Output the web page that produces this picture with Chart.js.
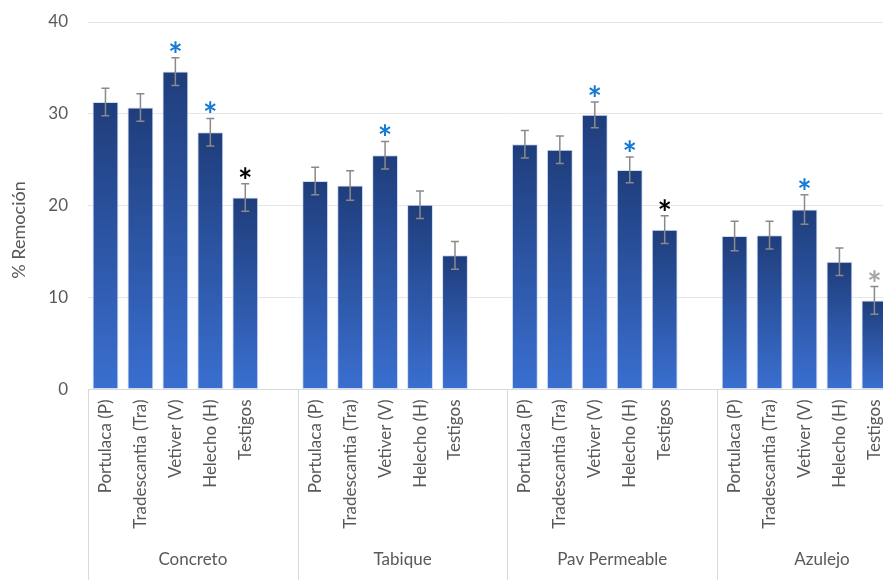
<!DOCTYPE html>
<html>
<head>
<meta charset="utf-8">
<script src="https://cdn.jsdelivr.net/npm/chart.js@4.4.1/dist/chart.umd.min.js"></script>
<style>
  html, body { margin: 0; padding: 0; background: #fff; overflow: hidden; }
  #wrap { width: 940px; height: 580px; position: relative; }
</style>
</head>
<body>
<div id="wrap"><canvas id="barChart"></canvas></div>
<script>
// datos
const grupos = ['Concreto', 'Tabique', 'Pav Permeable', 'Azulejo'];
const plantas = ['Portulaca (P)', 'Tradescantia (Tra)', 'Vetiver (V)', 'Helecho (H)', 'Testigos'];

const concreto = [31.3, 30.7, 34.6, 28.0, 20.9];
const tabique = [22.7, 22.2, 25.5, 20.1, 14.6];
const pavPermeable = [26.7, 26.1, 29.9, 23.9, 17.4];
const azulejo = [16.7, 16.8, 19.6, 13.9, 9.7];

const errConcreto = [1.5, 1.5, 1.5, 1.5, 1.5];
const errTabique = [1.5, 1.6, 1.5, 1.5, 1.5];
const errPav = [1.5, 1.5, 1.4, 1.4, 1.5];
const errAzulejo = [1.6, 1.5, 1.6, 1.5, 1.5];

// significancia: 1 = azul, 2 = negro, 3 = gris
const sigConcreto = [0, 0, 1, 1, 2];
const sigTabique = [0, 0, 1, 0, 0];
const sigPav = [0, 0, 1, 1, 2];
const sigAzulejo = [0, 0, 1, 0, 3];

const yTicks = [0, 10, 20, 30, 40];
const yTitulo = '% Remoción';

// arma las categorias con un hueco al final de cada grupo
const valores = [concreto, tabique, pavPermeable, azulejo];
const errores = [errConcreto, errTabique, errPav, errAzulejo];
const sigs = [sigConcreto, sigTabique, sigPav, sigAzulejo];
const labels = [], data = [], errs = [], marks = [];
grupos.forEach((g, i) => {
    plantas.forEach((p, j) => {
        labels.push(p); data.push(valores[i][j]); errs.push(errores[i][j]); marks.push(sigs[i][j]);
    });
    labels.push(''); data.push(null); errs.push(null); marks.push(0);
});

const sigColors = { 1: '#1479d4', 2: '#000000', 3: '#a6a6a6' };
const gris = '#595959';
const fuente = 'Lato, "Open Sans", sans-serif';

function barGradient(ctx) {
    const chart = ctx.chart;
    if (!chart.chartArea || ctx.raw == null) return '#2b55a8';
    const y = chart.scales.y;
    const top = y.getPixelForValue(ctx.raw);
    const bottom = y.getPixelForValue(0);
    if (!isFinite(top) || top === bottom) return '#2b55a8';
    const g = chart.ctx.createLinearGradient(0, top, 0, bottom);
    g.addColorStop(0, '#1f3d7b');
    g.addColorStop(1, '#3a6fd0');
    return g;
}

// barras de error, asteriscos, etiquetas de grupo, separadores y titulo
const extras = {
    id: 'extras',
    afterDatasetsDraw(chart) {
        const ctx = chart.ctx;
        const y = chart.scales.y;
        const meta = chart.getDatasetMeta(0);
        ctx.save();
        meta.data.forEach((bar, i) => {
            const v = data[i];
            if (v == null) return;
            const e = errs[i];
            const yt = y.getPixelForValue(v + e);
            const yb = y.getPixelForValue(v - e);
            ctx.strokeStyle = '#8a8a8a';
            ctx.lineWidth = 1.5;
            ctx.beginPath();
            ctx.moveTo(bar.x, yt); ctx.lineTo(bar.x, yb);
            ctx.moveTo(bar.x - 4, yt); ctx.lineTo(bar.x + 4, yt);
            ctx.moveTo(bar.x - 4, yb); ctx.lineTo(bar.x + 4, yb);
            ctx.stroke();
            if (marks[i]) {
                ctx.fillStyle = sigColors[marks[i]];
                ctx.font = 'bold 34px ' + fuente;
                ctx.textAlign = 'center';
                ctx.textBaseline = 'alphabetic';
                ctx.fillText('*', bar.x, yt + 9);
            }
        });
        ctx.restore();
    },
    afterDraw(chart) {
        const ctx = chart.ctx;
        const x = chart.scales.x;
        const area = chart.chartArea;
        ctx.save();
        ctx.strokeStyle = '#d9d9d9';
        ctx.lineWidth = 1;
        grupos.forEach((g, i) => {
            const left = x.getPixelForValue(i * 6 - 0.5);
            const right = x.getPixelForValue(i * 6 + 5.5);
            ctx.beginPath();
            ctx.moveTo(Math.round(left) + 0.5, area.bottom);
            ctx.lineTo(Math.round(left) + 0.5, chart.height);
            ctx.stroke();
            ctx.fillStyle = gris;
            ctx.font = '17px ' + fuente;
            ctx.textAlign = 'center';
            ctx.textBaseline = 'middle';
            ctx.fillText(g, (left + right) / 2, 560);
        });
        // titulo del eje y
        ctx.translate(19, 230);
        ctx.rotate(-Math.PI / 2);
        ctx.fillStyle = gris;
        ctx.font = '18px ' + fuente;
        ctx.textAlign = 'center';
        ctx.textBaseline = 'middle';
        ctx.fillText(yTitulo, 0, 0);
        ctx.restore();
    }
};

new Chart(document.getElementById('barChart').getContext('2d'), {
    type: 'bar',
    data: {
        labels: labels,
        datasets: [{
            data: data,
            backgroundColor: barGradient,
            borderColor: 'rgba(190,210,245,0.75)',
            borderWidth: 1,
            borderSkipped: false,
            categoryPercentage: 1,
            barPercentage: 0.74
        }]
    },
    options: {
        responsive: true,
        maintainAspectRatio: false,
        animation: false,
        layout: { padding: { top: 22, right: 12, left: 0, bottom: 0 } },
        plugins: { legend: { display: false }, tooltip: { enabled: false } },
        scales: {
            x: {
                grid: { display: false, drawTicks: false },
                border: { display: true, color: '#d9d9d9' },
                ticks: {
                    autoSkip: false, minRotation: 90, maxRotation: 90, padding: 10,
                    color: gris, font: { family: fuente, size: 17 }
                },
                afterFit(scale) { scale.height = 190.5; }
            },
            y: {
                min: 0, max: 40,
                afterBuildTicks(scale) { scale.ticks = yTicks.map(v => ({ value: v })); },
                grid: { color: '#e6e6e6', drawTicks: false },
                border: { display: false },
                ticks: { padding: 20, color: gris, font: { family: fuente, size: 17 } },
                afterFit(scale) { scale.width = 88; scale.paddingTop = 0; scale.paddingBottom = 0; }
            }
        }
    },
    plugins: [extras]
});
</script>
</body>
</html>
